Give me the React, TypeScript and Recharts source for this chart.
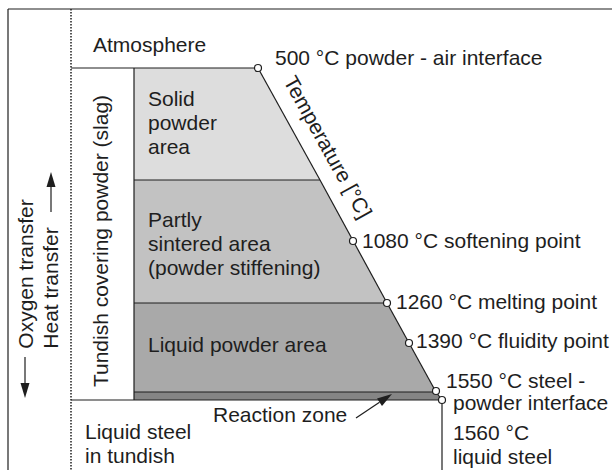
import React from 'react';
import {
  ComposedChart,
  Area,
  XAxis,
  YAxis,
  ReferenceLine,
  ReferenceDot
} from 'recharts';

// schematic of the tundish covering powder layers (x across, depth down, in px of the drawing)
const layerNames = ['solid', 'partly', 'liquid', 'reaction'];
const layerDepth = [68, 180, 303, 392, 400];
const edgeX = [258, 320, 387, 436, 442];
const layerColors = ['#dddddd', '#c2c2c2', '#a9a9a9', '#858585'];

// temperature points along the slanted edge
const tempValues = [500, 1080, 1260, 1390, 1550, 1560];
const tempX = [258, 353, 387, 409, 436, 442];
const tempDepth = [68, 241, 303, 343, 391, 400];

const regionLabels = [
  ['Atmosphere'],
  ['Solid', 'powder', 'area'],
  ['Partly', 'sintered area', '(powder stiffening)'],
  ['Liquid powder area'],
  ['Reaction zone'],
  ['Liquid steel', 'in tundish']
];

const tempLabels = [
  ['500 °C powder - air interface'],
  ['1080 °C softening point'],
  ['1260 °C melting point'],
  ['1390 °C fluidity point'],
  ['1550 °C steel -'],
  ['powder interface'],
  ['1560 °C', 'liquid steel']
];

const sideLabels = ['Tundish covering powder (slag)', 'Oxygen transfer', 'Heat transfer', 'Temperature [°C]'];

const rows = layerDepth.map((depth, i) => {
  const row: any = { depth };
  layerNames.forEach((name, j) => {
    row[name] = i === j || i === j + 1 ? edgeX[i] : null;
  });
  return row;
});

// where the texts sit (baseline of first line)
const regionPos = [[93, 52], [148, 106], [148, 227], [148, 352], [213, 422], [85, 439]];
const tempPos = [[275, 65], [362, 248], [396, 309], [416, 348], [446, 388], [453, 410], [453, 440]];
const sidePos = [[100, 241, -90], [25, 274, -90], [50, 288, -90], [328, 147, 61]];

const FONT = '"Liberation Sans", Arial, Helvetica, sans-serif';
const INK = '#1e1e1e';

const textShape = (lines: string[], angle?: number) => (p: any) => {
  if (angle !== undefined) {
    return (
      <text
        x={p.cx}
        y={p.cy}
        fontFamily={FONT}
        fontSize={21}
        fill={INK}
        textAnchor="middle"
        dominantBaseline="central"
        transform={`rotate(${angle} ${p.cx} ${p.cy})`}
      >
        {lines[0]}
      </text>
    );
  }
  return (
    <text x={p.cx} y={p.cy} fontFamily={FONT} fontSize={21} fill={INK}>
      {lines.map((l, i) => (
        <tspan key={i} x={p.cx} dy={i === 0 ? 0 : 24}>
          {l}
        </tspan>
      ))}
    </text>
  );
};

const arrowShape = (p: any) => {
  const { x1, y1, x2, y2 } = p;
  const dx = x2 - x1;
  const dy = y2 - y1;
  const len = Math.sqrt(dx * dx + dy * dy);
  const ux = dx / len;
  const uy = dy / len;
  const hl = 15;
  const hw = 4.5;
  const bx = x2 - ux * hl;
  const by = y2 - uy * hl;
  return (
    <g>
      <line x1={x1} y1={y1} x2={bx} y2={by} stroke={INK} strokeWidth={1.2} />
      <polygon
        points={`${x2},${y2} ${bx - uy * hw},${by + ux * hw} ${bx + uy * hw},${by - ux * hw}`}
        fill={INK}
      />
    </g>
  );
};

const seg = (key: string, a: number[], b: number[], dash?: string) => (
  <ReferenceLine
    key={key}
    segment={[{ x: a[0], y: a[1] }, { x: b[0], y: b[1] }]}
    stroke={INK}
    strokeWidth={dash ? 1.5 : 1.2}
    strokeDasharray={dash}
    ifOverflow="visible"
  />
);

export default function App() {
  return (
    <div style={{ position: 'absolute', left: 0, top: 0, width: 612, height: 470, background: '#fff' }}>
      <ComposedChart
        width={612}
        height={470}
        data={rows}
        layout="vertical"
        margin={{ top: 0, right: 0, bottom: 0, left: 0 }}
      >
        <XAxis type="number" domain={[0, 612]} hide allowDataOverflow />
        <YAxis type="number" dataKey="depth" domain={[0, 470]} hide allowDataOverflow />
        {layerNames.map((name, i) => (
          <Area
            key={name}
            type="linear"
            dataKey={name}
            baseValue={134}
            fill={layerColors[i]}
            fillOpacity={1}
            stroke={INK}
            strokeWidth={1.2}
            dot={false}
            activeDot={false}
            isAnimationActive={false}
          />
        ))}
        {seg('frameTop', [8, 9], [612, 9])}
        {seg('frameLeft', [8, 9], [8, 470])}
        {seg('dotted', [71, 9], [71, 470], '1.5 1.5')}
        {seg('atm', [71, layerDepth[0]], [edgeX[0], layerDepth[0]])}
        {seg('slag', [134, layerDepth[0]], [134, layerDepth[4]])}
        {seg('b1', [134, layerDepth[1]], [edgeX[1], layerDepth[1]])}
        {seg('b2', [134, layerDepth[2]], [edgeX[2], layerDepth[2]])}
        {seg('b3', [134, layerDepth[3]], [edgeX[3], layerDepth[3]])}
        {seg('bottom', [71, layerDepth[4]], [edgeX[4], layerDepth[4]])}
        {seg('steel', [edgeX[4], layerDepth[4]], [edgeX[4], 470])}
        <ReferenceLine segment={[{ x: 356, y: 418 }, { x: 392, y: 394 }]} shape={arrowShape} ifOverflow="visible" />
        <ReferenceLine segment={[{ x: 25, y: 357 }, { x: 25, y: 398 }]} shape={arrowShape} ifOverflow="visible" />
        <ReferenceLine segment={[{ x: 51, y: 212 }, { x: 51, y: 172 }]} shape={arrowShape} ifOverflow="visible" />
        {tempValues.map((t, i) => (
          <ReferenceDot
            key={'t' + t}
            x={tempX[i]}
            y={tempDepth[i]}
            r={3.5}
            fill="#fff"
            stroke={INK}
            strokeWidth={1.2}
            ifOverflow="visible"
          />
        ))}
        {regionLabels.map((lines, i) => (
          <ReferenceDot
            key={'r' + i}
            x={regionPos[i][0]}
            y={regionPos[i][1]}
            r={0}
            ifOverflow="visible"
            shape={textShape(lines)}
          />
        ))}
        {tempLabels.map((lines, i) => (
          <ReferenceDot
            key={'l' + i}
            x={tempPos[i][0]}
            y={tempPos[i][1]}
            r={0}
            ifOverflow="visible"
            shape={textShape(lines)}
          />
        ))}
        {sideLabels.map((label, i) => (
          <ReferenceDot
            key={'s' + i}
            x={sidePos[i][0]}
            y={sidePos[i][1]}
            r={0}
            ifOverflow="visible"
            shape={textShape([label], sidePos[i][2])}
          />
        ))}
      </ComposedChart>
    </div>
  );
}
